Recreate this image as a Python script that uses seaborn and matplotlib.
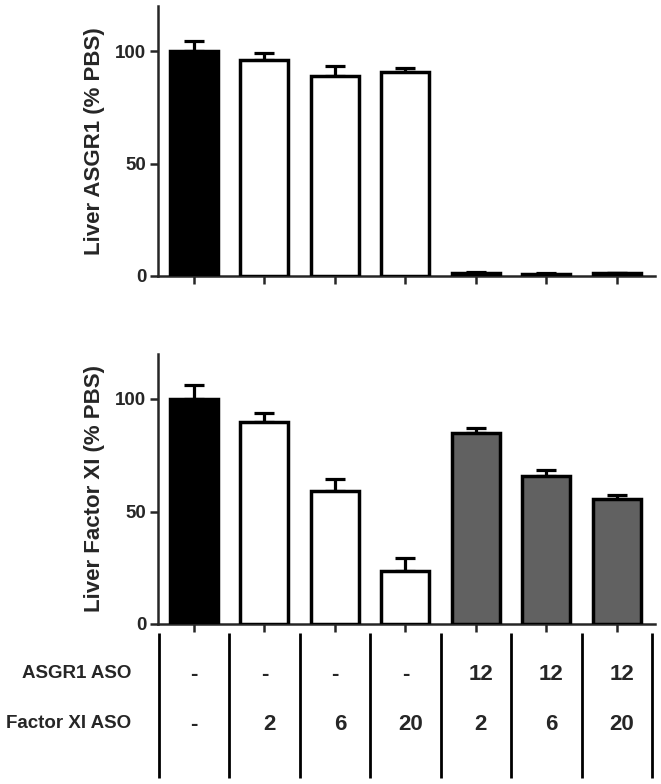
import matplotlib
matplotlib.use("Agg")
import numpy as np
import pandas as pd
import seaborn as sns
import matplotlib.pyplot as plt

# ---- data ----
groups = ["PBS", "FXI 2", "FXI 6", "FXI 20", "ASGR1 12 + FXI 2", "ASGR1 12 + FXI 6", "ASGR1 12 + FXI 20"]
asgr1_mean = [100, 96, 89, 90.5, 1.5, 1.0, 1.2]
asgr1_sem = [4.5, 3.0, 4.5, 2.0, 0.4, 0.3, 0.3]
fxi_mean = [100, 90, 59, 23.5, 85, 66, 55.5]
fxi_sem = [6.0, 4.0, 5.5, 6.0, 2.0, 2.3, 2.0]
bar_colors = ["#000000", "#ffffff", "#ffffff", "#ffffff", "#616161", "#616161", "#616161"]
asgr1_aso_row = ["-", "-", "-", "-", "12", "12", "12"]
fxi_aso_row = ["-", "2", "6", "20", "2", "6", "20"]
row_titles = ["ASGR1 ASO", "Factor XI ASO"]
ylabels = ["Liver ASGR1 (% PBS)", "Liver Factor XI (% PBS)"]
yticks = [0, 50, 100]

sns.set_style("ticks")
plt.rcParams["font.family"] = ["Liberation Sans", "DejaVu Sans"]
plt.rcParams["font.weight"] = "bold"

W, H = 661, 784
fig = plt.figure(figsize=(W / 100, H / 100), dpi=100)

ax_l, ax_r = 158 / W, 655 / W
xlim = (-0.51, 6.54)

def panel(rect, means, sems, ylabel):
    ax = fig.add_axes(rect)
    df = pd.DataFrame({"group": groups, "value": means})
    sns.barplot(data=df, x="group", y="value", hue="group", palette=bar_colors,
                legend=False, saturation=1, width=0.68, edgecolor="black",
                linewidth=2.5, errorbar=None, ax=ax, zorder=3)
    x = np.arange(len(groups))
    ax.errorbar(x, means, yerr=[np.zeros(len(sems)), sems], fmt="none",
                ecolor="black", elinewidth=2.3, capsize=7.5, capthick=2.3, zorder=2)
    ax.set_xlim(*xlim)
    ax.set_ylim(0, 120)
    ax.set_yticks(yticks)
    ax.set_xticks(x)
    ax.set_xticklabels([""] * len(groups))
    ax.set_xlabel("")
    ax.set_ylabel(ylabel, fontsize=16, fontweight="bold")
    ax.yaxis.set_label_coords(-0.106, 0.5)
    sns.despine(ax=ax)
    for s in ("left", "bottom"):
        ax.spines[s].set_linewidth(1.8)
    ax.tick_params(axis="both", direction="out", length=6, width=1.8,
                   labelsize=13.5, pad=2.5)
    for t in ax.get_yticklabels():
        t.set_fontweight("bold")
    return ax

ax1 = panel([ax_l, 1 - 276 / H, ax_r - ax_l, 270 / H], asgr1_mean, asgr1_sem, ylabels[0])
ax2 = panel([ax_l, 1 - 624 / H, ax_r - ax_l, 270 / H], fxi_mean, fxi_sem, ylabels[1])

# ---- table ----
axt = fig.add_axes([ax_l, 0, ax_r - ax_l, 151 / H])
axt.set_xlim(*xlim)
axt.set_ylim(0, 1)
axt.axis("off")
bounds = np.arange(len(groups) + 1) - 0.5
axt.vlines(bounds, 0.04, 1.0, colors="black", linewidth=2.0)
row_y = [(H - 674) / 151, (H - 724) / 151]
for yy, row in zip(row_y, [asgr1_aso_row, fxi_aso_row]):
    for i, lab in enumerate(row):
        axt.text(i + (0 if lab == "-" else 0.07), yy, lab, ha="center", va="center",
                 fontsize=16, fontweight="bold")
for yy, title in zip(row_y, row_titles):
    fig.text(131 / W, yy * 151 / H, title, ha="right", va="center",
             fontsize=13.5, fontweight="bold")

fig.savefig("out.png", dpi=100)
